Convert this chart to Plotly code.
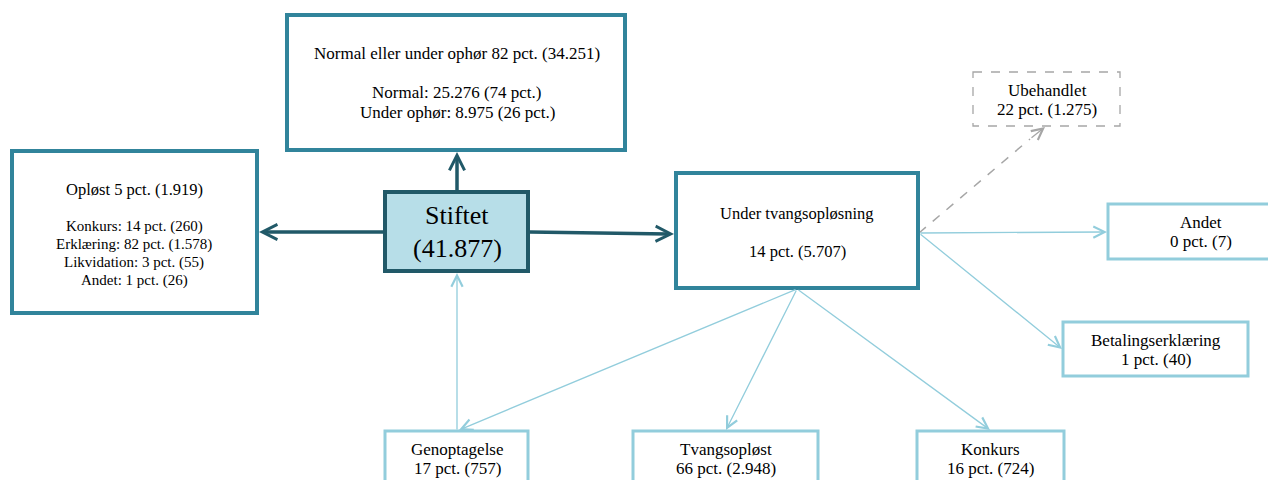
import plotly.graph_objects as go

## Data
stiftet_n = 41877

normal_pct = 82
normal_n = 34251
normal_sub = ['Normal', 'Under ophør']
normal_sub_n = [25276, 8975]
normal_sub_pct = [74, 26]

oploest_pct = 5
oploest_n = 1919
oploest_sub = ['Konkurs', 'Erklæring', 'Likvidation', 'Andet']
oploest_sub_pct = [14, 82, 3, 1]
oploest_sub_n = [260, 1578, 55, 26]

tvang_pct = 14
tvang_n = 5707
tvang_out = ['Ubehandlet', 'Andet', 'Betalingserklæring', 'Genoptagelse', 'Tvangsopløst', 'Konkurs']
tvang_out_pct = [22, 0, 1, 17, 66, 16]
tvang_out_n = [1275, 7, 40, 757, 2948, 724]


def dk(n):
    return f'{n:,}'.replace(',', '.')


#### Colours / fonts
DARK = '#215968'
TEAL = '#31849b'
LIGHT = '#92cddc'
FILL = '#b7dee8'
GREY = '#a6a6a6'
FONT = 'Liberation Serif'

fig = go.Figure()

## Box geometry (pixels, y downwards)
boxes = {
    'normal':  (287, 15, 625, 150),
    'oploest': (12, 151, 257, 313),
    'stiftet': (385, 192, 528, 271),
    'tvang':   (676, 173, 918, 288),
    'Ubehandlet': (973, 72, 1120, 126),
    'Andet': (1108, 204, 1300, 259),
    'Betalingserklæring': (1063, 322, 1248, 376),
    'Genoptagelse': (385, 431, 528, 500),
    'Tvangsopløst': (633, 431, 818, 500),
    'Konkurs': (917, 431, 1064, 500),
}


def box(key, color, width, fill='white', dash='solid'):
    x0, y0, x1, y1 = boxes[key]
    fig.add_shape(type='rect', x0=x0, y0=y0, x1=x1, y1=y1, xref='x', yref='y',
                  line=dict(color=color, width=width, dash=dash), fillcolor=fill, layer='above')


def label(x, y, lines, size=17, step=19.5):
    ## one annotation per line so the line spacing can follow the reference
    for i, t in enumerate(lines):
        if t:
            fig.add_annotation(x=x, y=y + i * step, xref='x', yref='y', text=t, showarrow=False,
                               font=dict(family=FONT, size=size, color='#000000'), align='center')


def arrow(x0, y0, x1, y1, color, width, head=5, size=1.0):
    fig.add_annotation(x=x1, y=y1, ax=x0, ay=y0, xref='x', yref='y', axref='x', ayref='y',
                       text='', showarrow=True, arrowhead=head, arrowsize=size,
                       arrowwidth=width, arrowcolor=color, standoff=0, startstandoff=0)


#### Arrows (drawn first)
## Dark arrows out of Stiftet
arrow(457, 192, 457, 152, DARK, 3.5, head=5, size=0.85)
arrow(385, 232, 259, 232, DARK, 3.5, head=5, size=0.85)
arrow(528, 232, 674, 234, DARK, 3.5, head=5, size=0.85)

## Light arrows from Under tvangsopløsning
src_b = (797, 289)
src_r = (919, 233)
arrow(*src_b, 459, 430, LIGHT, 1.3, size=1.7)
arrow(*src_b, 726, 430, LIGHT, 1.3, size=1.7)
arrow(*src_b, 990, 430, LIGHT, 1.3, size=1.7)
arrow(457, 431, 457, 273, LIGHT, 1.3, size=1.7)
arrow(*src_r, 1107, 232, LIGHT, 1.3, size=1.7)
arrow(*src_r, 1062, 349, LIGHT, 1.3, size=1.7)
## dashed to Ubehandlet
fig.add_shape(type='line', x0=src_r[0], y0=src_r[1], x1=1030, y1=139, xref='x', yref='y',
              line=dict(color=GREY, width=1.5, dash='dash'))
arrow(1030, 139, 1045, 127, GREY, 1.3, size=1.7)

#### Boxes
box('normal', TEAL, 4)
box('oploest', TEAL, 4)
box('tvang', TEAL, 4)
box('stiftet', DARK, 4, fill=FILL)
box('Ubehandlet', GREY, 1.3, dash='dash')
for k in ['Andet', 'Betalingserklæring', 'Genoptagelse', 'Tvangsopløst', 'Konkurs']:
    box(k, LIGHT, 3)

#### Text
label(457, 53, [f'Normal eller under ophør {normal_pct} pct. ({dk(normal_n)})', ''] +
      [f'{s}: {dk(n)} ({p} pct.)' for s, n, p in zip(normal_sub, normal_sub_n, normal_sub_pct)],
      size=17, step=19.7)
label(134, 189, [f'Opløst {oploest_pct} pct. ({dk(oploest_n)})'], size=16.5)
label(134, 226, [f'{s}: {p} pct. ({dk(n)})' for s, p, n in zip(oploest_sub, oploest_sub_pct, oploest_sub_n)],
      size=15, step=18)
label(457, 215, ['Stiftet', f'({dk(stiftet_n)})'], size=26, step=33)
label(797, 213, ['Under tvangsopløsning', '', f'{tvang_pct} pct. ({dk(tvang_n)})'], size=16.5, step=19)

text_pos = {
    'Ubehandlet': (1047, 90),
    'Andet': (1201, 222),
    'Betalingserklæring': (1156, 340),
    'Genoptagelse': (457, 449),
    'Tvangsopløst': (726, 449),
    'Konkurs': (990, 449),
}
for name, p, n in zip(tvang_out, tvang_out_pct, tvang_out_n):
    x, y = text_pos[name]
    label(x, y, [name, f'{p} pct. ({dk(n)})'], size=17, step=19.5)

#### Layout
## page body has an 8px margin, so the ranges are shifted to line up with the reference
fig.update_xaxes(range=[8, 1284], visible=False)
fig.update_yaxes(range=[488, 8], visible=False)
fig.update_layout(width=1276, height=480, margin=dict(l=0, r=0, t=0, b=0),
                  plot_bgcolor='#ffffff', paper_bgcolor='#ffffff', showlegend=False)

fig.write_html('out.html')
